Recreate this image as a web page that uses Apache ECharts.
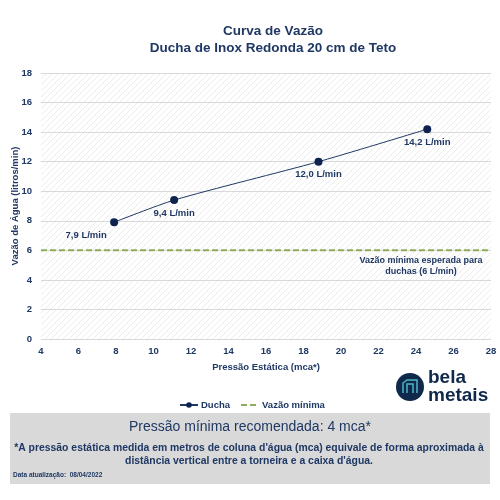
<!DOCTYPE html>
<html>
<head>
<meta charset="utf-8">
<script src="https://cdn.jsdelivr.net/npm/echarts@6/dist/echarts.min.js"></script>
<style>
  html, body { margin: 0; padding: 0; background: #fff; }
  #main { width: 500px; height: 500px; }
</style>
</head>
<body>
<div id="main"></div>
<script>
// dados
const pressao = [7.9, 11.1, 18.8, 24.6]
const vazao = [7.9, 9.4, 12.0, 14.2]
const rotulos = ['7,9 L/min', '9,4 L/min', '12,0 L/min', '14,2 L/min']
const minimoX = [4, 28]
const minimoY = [6, 6]

const navy = '#1f3864'
const font = 'Liberation Sans, Arial, sans-serif'

// fundo hachurado da área do gráfico
function hatch() {
  const c = document.createElement('canvas')
  c.width = 6
  c.height = 6
  const ctx = c.getContext('2d')
  ctx.fillStyle = '#ffffff'
  ctx.fillRect(0, 0, 6, 6)
  ctx.strokeStyle = '#ececec'
  ctx.lineWidth = 1
  ctx.beginPath()
  ctx.moveTo(0, 6); ctx.lineTo(6, 0)
  ctx.moveTo(-1, 1); ctx.lineTo(1, -1)
  ctx.moveTo(5, 7); ctx.lineTo(7, 5)
  ctx.stroke()
  return c
}

const chart = echarts.init(document.getElementById('main'), null, { renderer: 'canvas' })

// deslocamento dos rótulos
const offs = [[-28, 0], [0, 0], [0, 0], [0, 0]]

chart.setOption({
  animation: false,
  textStyle: { fontFamily: font },
  title: {
    text: 'Curva de Vazão\nDucha de Inox Redonda 20 cm de Teto',
    left: 268,
    textAlign: 'center',
    top: 18,
    textStyle: { color: navy, fontSize: 13.5, fontWeight: 'bold', lineHeight: 17, fontFamily: font }
  },
  grid: {
    left: 41, right: 9, top: 73, bottom: 161,
    outerBoundsMode: 'none',
    containLabel: false,
    show: true,
    borderWidth: 0,
    backgroundColor: { image: hatch(), repeat: 'repeat' }
  },
  legend: {
    top: 395,
    left: 174,
    itemGap: 10,
    itemWidth: 18,
    itemHeight: 7,
    textStyle: { color: navy, fontSize: 9.5, fontWeight: 'bold', fontFamily: font, padding: [0, 0, 0, -2] },
    data: [
      { name: 'Ducha' },
      { name: 'Vazão mínima', itemStyle: { opacity: 0 } }
    ]
  },
  xAxis: {
    type: 'value',
    min: 4, max: 28, interval: 2,
    name: 'Pressão Estática (mca*)',
    nameLocation: 'middle',
    nameGap: 23,
    nameMoveOverlap: false,
    nameTextStyle: { color: navy, fontSize: 9.5, fontWeight: 'bold' },
    axisLine: { show: false },
    axisTick: { show: false },
    splitLine: { show: false },
    axisLabel: { color: navy, fontSize: 9.5, fontWeight: 'bold', margin: 7 }
  },
  yAxis: {
    type: 'value',
    min: 0, max: 18, interval: 2,
    name: 'Vazão de Água (litros/min)',
    nameLocation: 'middle',
    nameGap: 21,
    nameMoveOverlap: false,
    nameTextStyle: { color: navy, fontSize: 9.5, fontWeight: 'bold' },
    axisLine: { show: false },
    axisTick: { show: false },
    splitLine: { lineStyle: { color: '#d9d9d9', width: 1 } },
    axisLabel: { color: navy, fontSize: 9.5, fontWeight: 'bold', margin: 9 }
  },
  series: [
    {
      name: 'Vazão mínima',
      type: 'line',
      data: minimoX.map((x, i) => [x, minimoY[i]]),
      symbol: 'none',
      lineStyle: { color: '#8fac5b', width: 2, type: [6, 3] },
      itemStyle: { color: '#8fac5b' },
      z: 2
    },
    {
      name: 'Ducha',
      type: 'line',
      smooth: 0.25,
      data: pressao.map((x, i) => ({
        value: [x, vazao[i]],
        label: { offset: offs[i] }
      })),
      symbol: 'circle',
      symbolSize: 8,
      lineStyle: { color: navy, width: 1 },
      itemStyle: { color: '#0e2250' },
      label: {
        show: true,
        position: 'bottom',
        distance: 4,
        color: navy,
        fontSize: 9.5,
        fontWeight: 'bold',
        formatter: p => rotulos[p.dataIndex]
      },
      z: 3
    }
  ],
  graphic: [
    {
      type: 'text',
      x: 421, y: 255,
      style: {
        text: 'Vazão mínima esperada para\nduchas (6 L/min)',
        align: 'center',
        fill: navy, font: 'bold 9px ' + font, lineHeight: 11
      }
    },
    // logo
    { type: 'circle', shape: { cx: 410, cy: 387, r: 14 }, style: { fill: '#10284a' } },
    {
      type: 'polyline',
      shape: { points: [[403, 393], [403, 383], [407, 380], [417, 380], [417, 393]] },
      style: { stroke: '#4bb6c4', lineWidth: 1.5, fill: null }
    },
    {
      type: 'polyline',
      shape: { points: [[407, 393], [407, 384], [413, 384], [413, 393]] },
      style: { stroke: '#4bb6c4', lineWidth: 1.5, fill: null }
    },
    {
      type: 'text', x: 428, y: 369,
      style: { text: 'bela\nmetais', fill: '#10284a', font: 'bold 19px ' + font, lineHeight: 18 }
    },
    // caixa inferior
    { type: 'rect', shape: { x: 10, y: 413, width: 480, height: 71 }, style: { fill: '#d9d9d9' } },
    {
      type: 'text', x: 250, y: 420,
      style: { text: 'Pressão mínima recomendada: 4 mca*', align: 'center', fill: navy, font: '14px ' + font }
    },
    {
      type: 'text', x: 249, y: 442,
      style: {
        text: '*A pressão estática medida em metros de coluna d\'água (mca) equivale de forma aproximada à\ndistância vertical entre a torneira e a caixa d\'água.',
        align: 'center', fill: navy, font: 'bold 10.4px ' + font, lineHeight: 13
      }
    },
    {
      type: 'text', x: 13, y: 472,
      style: { text: 'Data atualização:  08/04/2022', fill: navy, font: 'bold 6.5px ' + font }
    }
  ]
})
</script>
</body>
</html>
